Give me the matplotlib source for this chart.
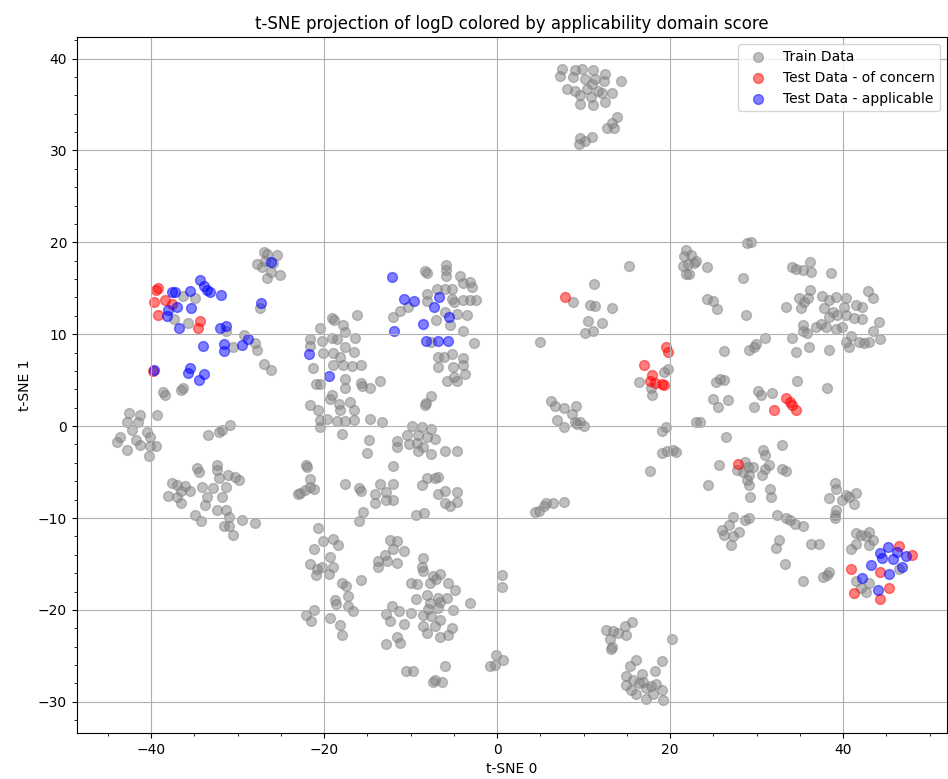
import matplotlib
matplotlib.use("Agg")
import matplotlib.pyplot as plt
import numpy as np

# train data (t-SNE 0, t-SNE 1)
train_left_top = [
    (-27.0, 18.9), (-26.6, 18.7), (-27.8, 17.6), (-26.8, 18.0), (-25.5, 18.6),
    (-27.2, 17.3), (-26.2, 16.8), (-25.1, 16.4), (-26.6, 16.1), (-25.9, 17.7),
    (-27.4, 12.8), (-36.3, 14.2), (-34.9, 13.9), (-37.4, 11.7), (-35.7, 11.2),
    (-31.3, 10.4), (-30.5, 8.6), (-29.3, 9.9), (-28.0, 9.0), (-27.8, 8.3),
    (-27.0, 6.8), (-26.2, 6.1), (-38.6, 3.7), (-38.4, 3.4), (-36.5, 3.9),
    (-36.3, 4.2),
]
train_far_left = [
    (-42.6, 1.4), (-41.3, 1.2), (-39.3, 1.2), (-42.8, 0.5), (-41.5, 0.4),
    (-42.2, -0.4), (-40.5, -0.6), (-43.6, -1.2), (-44.0, -1.7), (-42.8, -2.6),
    (-41.8, -1.5), (-41.3, -2.1), (-40.1, -1.2), (-40.1, -2.2), (-40.3, -3.2),
    (-39.5, -2.2),
]
train_left_low = [
    (-33.4, -1.0), (-32.2, -0.6), (-31.8, -0.4), (-30.9, 0.1), (-34.7, -4.6),
    (-34.5, -5.0), (-32.4, -4.2), (-32.4, -4.8), (-31.1, -5.3), (-30.3, -5.5),
    (-29.9, -5.9), (-32.2, -5.7), (-37.6, -6.2), (-37.0, -6.4), (-36.1, -6.5),
    (-36.5, -7.1), (-38.0, -7.6), (-37.0, -7.7), (-35.5, -7.1), (-36.6, -8.4),
    (-34.1, -6.6), (-32.8, -6.7), (-31.4, -6.6), (-33.6, -7.7), (-31.8, -7.7),
    (-33.8, -8.6), (-32.4, -9.1), (-31.4, -9.1), (-31.0, -9.9), (-29.5, -10.2),
    (-28.0, -10.5), (-34.9, -9.7), (-34.2, -10.3), (-31.6, -10.9), (-31.0, -10.9),
    (-30.5, -11.8), (-23.0, -7.4),
]
train_mid_left = [
    (-19.1, 11.8), (-18.9, 11.5), (-17.8, 11.0), (-16.2, 12.1), (-20.5, 10.7),
    (-21.6, 9.5), (-21.6, 8.7), (-20.3, 9.3), (-19.1, 9.6), (-18.5, 9.5),
    (-17.6, 10.2), (-16.4, 9.6), (-20.1, 8.0), (-19.0, 8.0), (-18.2, 7.5),
    (-17.6, 8.6), (-16.6, 8.1), (-19.0, 6.7), (-17.8, 6.7), (-16.8, 6.5),
    (-15.8, 6.6), (-21.3, 6.3), (-21.0, 4.6), (-20.5, 4.6), (-17.6, 5.1),
    (-17.6, 4.1), (-15.8, 4.7), (-15.6, 4.4), (-14.7, 4.1), (-13.6, 4.9),
    (-19.1, 3.4), (-19.3, 2.9), (-18.3, 2.4), (-17.0, 2.6), (-18.2, 1.7),
    (-16.6, 1.8), (-21.6, 2.3), (-20.7, 1.7), (-20.5, 0.7), (-19.7, 0.8),
    (-18.5, 0.6), (-17.6, 0.6), (-16.6, 0.7), (-20.5, -0.1), (-18.0, -0.9),
    (-14.7, 0.8), (-13.3, 0.5), (-14.8, -1.5), (-15.1, -2.9), (-12.0, -4.3),
    (-22.1, -4.2), (-22.0, -4.5),
]
train_mid_top = [
    (-8.3, 16.9), (-8.1, 16.7), (-5.9, 17.5), (-5.9, 17.0), (-5.9, 16.3),
    (-4.3, 16.3), (-3.9, 15.6), (-3.1, 15.7), (-2.9, 15.1), (-7.0, 14.9),
    (-6.0, 14.9), (-5.2, 14.9), (-8.1, 14.4), (-5.2, 13.8), (-5.0, 13.5),
    (-3.9, 13.7), (-3.1, 13.7), (-2.5, 13.7), (-8.1, 13.6), (-6.0, 12.4),
    (-4.7, 12.2), (-3.5, 12.1), (-7.1, 11.5), (-5.4, 11.0), (-3.9, 10.4),
    (-2.7, 9.0), (-11.2, 12.5), (-10.3, 13.0), (-12.1, 11.9), (-7.7, 9.2),
    (-6.8, 7.5), (-6.2, 7.5), (-5.2, 7.8), (-4.0, 7.4), (-6.8, 6.4),
    (-5.1, 6.4), (-4.0, 6.6), (-5.8, 4.9), (-4.7, 4.9), (-3.7, 5.7),
    (-5.0, 5.3),
]
train_mid = [
    (-8.2, 2.5), (-7.7, 3.3), (-8.3, 2.3), (-9.9, 0.0), (-8.7, -0.1),
    (-7.7, -0.3), (-10.4, -1.0), (-9.1, -1.0), (-8.1, -1.2), (-7.2, -1.4),
    (-11.6, -1.6), (-10.2, -2.0), (-9.3, -1.8), (-8.6, -2.3), (-11.6, -2.3),
    (-9.1, -2.7), (-7.6, -3.0), (-6.0, -2.7), (-4.7, -2.7),
]
train_mid_low = [
    (-21.6, -5.8), (-21.6, -6.6), (-22.8, -7.3), (-22.2, -7.0), (-21.2, -6.8),
    (-17.6, -6.3), (-16.0, -6.7), (-15.8, -7.1), (-13.6, -6.3), (-12.1, -6.3),
    (-12.8, -7.2), (-14.1, -7.4), (-14.1, -8.4), (-12.9, -8.0), (-12.0, -8.0),
    (-8.7, -6.4), (-8.1, -5.7), (-7.2, -5.7), (-6.8, -5.5), (-6.8, -7.4),
    (-6.0, -7.1), (-4.7, -7.2), (-6.0, -8.4), (-5.4, -8.7), (-4.7, -8.3),
    (-9.4, -9.7), (-8.5, -9.5), (-15.5, -9.3), (-16.0, -10.3), (-20.7, -11.1),
    (-20.1, -12.5), (-21.2, -13.4), (-19.0, -12.3), (-18.4, -12.9), (-19.3, -14.2),
    (-21.6, -15.0), (-20.8, -15.6), (-20.2, -15.3), (-19.0, -15.3), (-21.0, -16.2),
    (-19.4, -16.1), (-18.0, -17.1), (-17.5, -17.4), (-15.8, -16.8), (-18.8, -18.9),
    (-17.2, -18.5), (-18.6, -19.4), (-17.2, -19.6), (-16.7, -20.1), (-21.2, -20.0),
    (-22.1, -20.6), (-21.5, -21.2), (-19.3, -20.9), (-18.2, -21.6), (-18.0, -22.7),
    (-12.4, -12.4), (-11.6, -12.5), (-13.0, -14.0), (-12.0, -13.4), (-10.8, -13.6),
    (-13.8, -14.7), (-12.7, -14.7), (-11.6, -14.9), (-13.8, -15.3), (-8.6, -14.3),
    (-8.7, -15.3), (-8.6, -15.8), (-7.4, -16.3), (-6.6, -16.1), (-7.1, -16.6),
    (-7.8, -17.1), (-10.0, -17.1), (-9.3, -17.2), (-5.7, -17.1), (-4.9, -17.8),
    (-8.1, -18.4), (-6.9, -18.7), (-5.8, -18.7), (-9.4, -18.8), (-7.8, -19.2),
    (-6.6, -19.1), (-3.1, -19.2), (-8.0, -19.9), (-6.9, -19.8), (-5.1, -20.0),
    (-12.2, -19.6), (-11.3, -20.1), (-12.9, -20.4), (-12.4, -21.2), (-10.0, -20.3),
    (-10.8, -21.5), (-8.6, -20.6), (-7.6, -20.7), (-6.6, -21.1), (-8.6, -21.8),
    (-8.1, -22.5), (-7.2, -21.7), (-6.6, -22.9), (-5.7, -22.7), (-5.2, -22.0),
    (-11.6, -22.9), (-11.2, -23.6), (-12.8, -23.7), (-10.6, -26.7), (-9.7, -26.7),
    (-6.0, -26.1), (-7.2, -27.6), (-6.4, -27.9), (-7.4, -27.9),
]
train_top = [
    (7.5, 38.9), (7.3, 38.1), (9.0, 38.7), (9.8, 38.9), (11.1, 38.7),
    (12.5, 38.3), (8.8, 38.0), (10.2, 37.8), (11.3, 37.8), (12.3, 37.6),
    (14.3, 37.6), (8.1, 36.7), (9.0, 36.5), (10.4, 36.7), (11.7, 36.5),
    (10.9, 37.2), (9.6, 36.0), (10.8, 35.8), (12.1, 36.2), (13.3, 36.3),
    (9.6, 35.0), (11.1, 34.9), (12.5, 35.3), (13.8, 33.6), (12.7, 32.4),
    (13.5, 32.4), (13.3, 33.0), (9.6, 31.3), (9.4, 30.7), (10.9, 31.5),
    (10.2, 31.0),
]
train_center = [
    (15.2, 17.4), (11.2, 15.5), (8.8, 13.5), (10.7, 13.2), (11.3, 13.1),
    (13.3, 12.9), (10.5, 11.4), (12.1, 11.2), (10.2, 10.1), (11.1, 10.3),
    (5.0, 9.2), (19.8, 6.2), (19.3, 5.9), (16.4, 4.8), (17.9, 3.4),
    (17.8, 4.1), (6.2, 2.7), (6.7, 2.2), (7.7, 2.0), (9.1, 2.2),
    (8.6, 1.3), (6.9, 0.7), (9.0, 0.5), (9.6, 0.4), (10.0, 0.0),
    (7.7, -0.1), (9.2, 0.2), (19.5, -0.1), (19.1, -0.5), (19.0, -2.9),
    (19.6, -2.7), (20.3, -2.6), (20.7, -2.8), (17.7, -4.9), (23.0, 0.4),
    (23.4, 0.5), (4.4, -9.4), (4.8, -9.2), (5.4, -8.7), (5.6, -8.4),
    (6.5, -8.4), (7.7, -8.3), (21.8, 19.2), (21.6, 18.5), (21.5, 17.4),
    (22.0, 17.6), (21.8, 16.5), (22.4, 18.6), (22.8, 17.7), (24.3, 17.3),
    (22.2, 16.6), (23.0, 18.0),
]
train_right_top = [
    (28.9, 19.9), (29.3, 20.0), (28.4, 16.1), (34.1, 17.3), (34.5, 17.1),
    (36.1, 17.9), (35.3, 17.0), (36.3, 16.8), (38.6, 16.7), (24.3, 13.8),
    (24.9, 13.6), (25.4, 12.7), (28.8, 12.1), (34.9, 13.9), (35.9, 13.9),
    (36.1, 14.8), (35.5, 13.5), (33.4, 13.0), (35.1, 12.8), (37.6, 14.2),
    (38.4, 13.7), (39.2, 14.1), (40.3, 13.9), (41.5, 13.2), (42.2, 13.0),
    (37.8, 12.8), (38.8, 12.4), (40.1, 13.0), (40.3, 12.1), (38.4, 11.9),
    (39.3, 12.1), (41.3, 11.8), (42.2, 11.7), (42.9, 14.7), (43.4, 13.9),
    (44.1, 11.3), (43.4, 10.3), (44.2, 9.5), (36.8, 10.8), (37.4, 11.1),
    (38.0, 10.8), (39.2, 10.6), (39.9, 10.8), (35.3, 11.0), (35.3, 10.3),
    (35.8, 10.1), (40.9, 9.8), (40.3, 9.2), (40.7, 8.6), (41.8, 9.1),
    (42.4, 9.0), (43.0, 9.1), (31.0, 9.6), (34.1, 9.6), (34.5, 8.1),
    (36.0, 8.6), (38.3, 8.3), (26.2, 8.2), (29.1, 8.3), (29.7, 8.6),
    (29.9, 8.9), (25.3, 4.8), (25.8, 5.1), (26.2, 5.0), (34.7, 4.9),
    (38.1, 4.2), (30.1, 3.8), (30.5, 3.4), (31.8, 3.6), (29.7, 2.1),
    (25.0, 3.0), (25.5, 2.1), (26.7, 2.8),
]
train_right_low = [
    (26.4, -1.2), (32.9, -2.1), (30.7, -2.6), (30.9, -3.1), (25.6, -4.2),
    (28.6, -3.9), (29.0, -4.4), (27.7, -4.8), (28.4, -5.0), (29.1, -5.3),
    (28.9, -5.9), (29.1, -6.4), (29.6, -4.4), (31.4, -4.2), (31.0, -4.7),
    (30.6, -5.3), (32.9, -4.7), (33.4, -4.9), (24.4, -6.4), (31.5, -6.8),
    (31.7, -7.7), (29.2, -7.7), (39.1, -6.2), (39.2, -6.8), (38.4, -7.8),
    (40.7, -7.7), (41.5, -7.3), (41.3, -8.5), (40.3, -7.5), (39.8, -8.0),
    (39.2, -9.1), (39.1, -9.7), (39.0, -10.0), (27.2, -9.9), (26.8, -10.8),
    (26.0, -11.3), (26.2, -11.8), (27.2, -12.0), (27.0, -12.9), (28.0, -11.5),
    (28.6, -10.2), (29.1, -10.0), (32.4, -9.7), (33.4, -10.0), (33.8, -10.2),
    (34.4, -10.7), (35.3, -10.9), (32.6, -12.4), (32.2, -13.3), (36.3, -12.8),
    (37.2, -12.8), (33.3, -15.0), (35.3, -16.9), (37.7, -16.4), (38.3, -15.9),
    (38.1, -16.2), (41.5, -11.6), (42.6, -12.0), (43.0, -11.5), (43.4, -12.4),
    (43.0, -12.9), (41.5, -12.8), (40.9, -13.4), (42.0, -11.9), (46.4, -15.5),
    (41.5, -16.9), (43.0, -17.1), (42.6, -18.0), (42.0, -17.6),
]
train_bottom = [
    (0.5, -16.2), (0.5, -17.5), (-0.1, -24.9), (-0.3, -26.0), (0.7, -25.4),
    (-0.8, -26.1), (12.6, -22.2), (13.4, -22.3), (14.0, -22.5), (14.8, -21.7),
    (15.6, -21.3), (14.9, -22.7), (13.0, -23.2), (13.3, -24.0), (13.2, -24.3),
    (20.2, -23.2), (19.0, -25.6), (16.1, -25.4), (15.3, -26.1), (16.7, -27.0),
    (18.2, -26.7), (14.9, -27.2), (15.7, -27.6), (14.9, -28.2), (16.4, -28.0),
    (15.5, -28.7), (16.1, -29.1), (17.2, -28.5), (17.8, -28.3), (18.4, -28.1),
    (19.0, -28.7), (18.0, -29.1), (17.2, -29.7), (19.2, -29.8), (16.9, -27.8),
]

concern = [
    (-39.5, 14.8), (-39.2, 15.0), (-39.7, 13.5), (-38.4, 13.7), (-37.6, 13.3),
    (-39.2, 12.1), (-34.3, 11.4), (-34.6, 10.7), (-39.8, 6.0), (7.8, 14.0),
    (19.5, 8.6), (19.7, 8.1), (17.0, 6.6), (17.9, 5.6), (17.7, 4.9),
    (18.2, 4.7), (19.0, 4.6), (19.3, 4.5), (33.4, 3.1), (33.8, 2.6),
    (34.1, 2.3), (34.5, 1.7), (32.0, 1.7), (27.8, -4.1), (46.5, -13.0),
    (47.9, -14.0), (40.9, -15.5), (44.2, -15.9), (45.3, -17.6), (41.2, -18.2),
    (44.2, -18.8),
]
applicable = [
    (-34.3, 15.9), (-33.9, 15.3), (-37.6, 14.6), (-37.2, 14.6), (-35.5, 14.7),
    (-33.6, 14.8), (-33.2, 14.6), (-31.9, 14.3), (-27.3, 13.4), (-26.2, 17.9),
    (-37.0, 13.0), (-38.0, 12.6), (-38.2, 12.0), (-35.4, 12.9), (-36.8, 10.7),
    (-32.1, 10.7), (-31.4, 10.9), (-34.0, 8.7), (-31.6, 8.9), (-31.6, 8.2),
    (-29.5, 8.8), (-28.8, 9.5), (-39.7, 6.1), (-35.5, 6.3), (-35.7, 5.8),
    (-33.9, 5.7), (-34.5, 5.0),
    (-12.2, 16.2), (-10.8, 13.8), (-9.6, 13.6), (-6.7, 14.1), (-7.3, 13.0),
    (-5.6, 11.9), (-8.6, 11.1), (-11.9, 10.4), (-8.2, 9.3), (-6.9, 9.3),
    (-5.7, 9.3), (-21.7, 7.8), (-19.4, 5.4),
    (44.2, -13.8), (45.2, -13.2), (46.2, -13.7), (47.2, -14.1), (44.5, -14.3),
    (45.7, -14.5), (46.8, -15.3), (43.2, -15.1), (45.3, -16.1), (42.2, -16.5),
    (44.0, -17.8),
]

train = np.array(train_left_top + train_far_left + train_left_low + train_mid_left
                 + train_mid_top + train_mid + train_mid_low + train_top
                 + train_center + train_right_top + train_right_low + train_bottom)
concern = np.array(concern)
applicable = np.array(applicable)

fig, ax = plt.subplots(figsize=(9.48, 7.79), dpi=100)
fig.subplots_adjust(left=0.081, right=0.999, top=0.952, bottom=0.059)

ax.scatter(train[:, 0], train[:, 1], color="gray", alpha=0.5, s=50, label="Train Data")
ax.scatter(concern[:, 0], concern[:, 1], color="red", alpha=0.5, s=50,
           label="Test Data - of concern")
ax.scatter(applicable[:, 0], applicable[:, 1], color="blue", alpha=0.5, s=50,
           label="Test Data - applicable")

ax.set_xlim(-48.6, 52.0)
ax.set_ylim(-33.4, 42.3)
ax.set_title("t-SNE projection of logD colored by applicability domain score")
ax.set_xlabel("t-SNE 0")
ax.set_ylabel("t-SNE 1")
ax.minorticks_on()
ax.grid(True, which="major")
ax.legend(loc="upper right")

fig.savefig("out.png")
